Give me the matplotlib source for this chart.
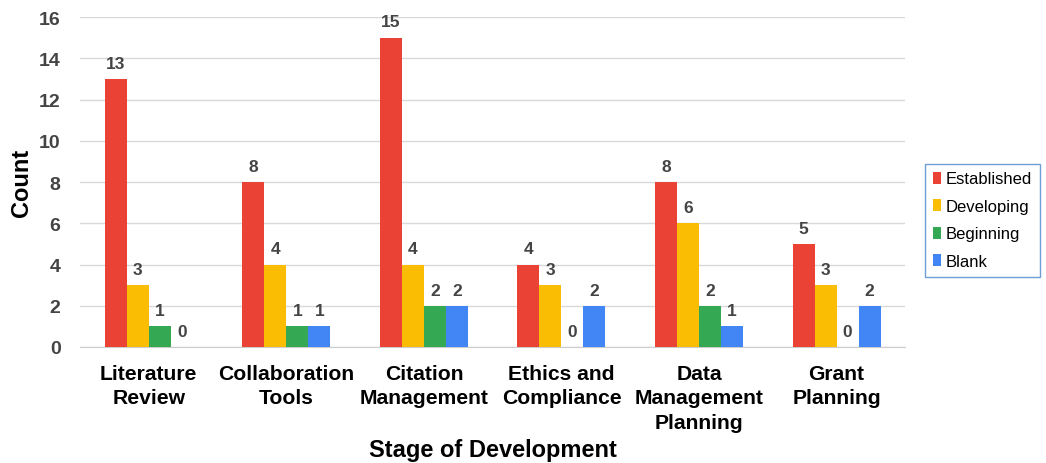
import numpy as np
import matplotlib
matplotlib.use("Agg")
import matplotlib.pyplot as plt

plt.rcParams['font.family'] = ['Liberation Sans', 'DejaVu Sans']

# counts per stage of development
categories = ["Literature\nReview", "Collaboration\nTools", "Citation\nManagement",
              "Ethics and\nCompliance", "Data\nManagement\nPlanning", "Grant\nPlanning"]
established = [13, 8, 15, 4, 8, 5]
developing = [3, 4, 4, 3, 6, 3]
beginning = [1, 1, 2, 0, 2, 0]
blank = [0, 1, 2, 2, 1, 2]

series = [("Established", established, "#EA4335"),
          ("Developing", developing, "#FBBC04"),
          ("Beginning", beginning, "#34A853"),
          ("Blank", blank, "#4285F4")]

fig = plt.figure(figsize=(10.46, 4.64), dpi=100)
ax = fig.add_axes([0.0765, 0.25, 0.789, 0.711])

x = np.arange(len(categories))
w = 0.16
for i, (name, vals, col) in enumerate(series):
    pos = x + (i - 1.5) * w
    ax.bar(pos, vals, w, color=col, label=name, zorder=3)
    for px, v in zip(pos, vals):
        ax.text(px, v + 0.4, str(v), ha='center', va='bottom',
                fontsize=12.5, fontweight='bold', color='#444444')

ax.set_xlim(-0.5, len(categories) - 0.5)
ax.set_ylim(0, 16)
ax.set_yticks(range(0, 17, 2))
ax.yaxis.grid(True, color='#d9d9d9', linewidth=1, zorder=0)
for s in ['top', 'right', 'left']:
    ax.spines[s].set_visible(False)
ax.spines['bottom'].set_color('#cccccc')
ax.tick_params(axis='both', length=0)
ax.tick_params(axis='y', labelsize=14, labelcolor='#444444', pad=14)
for lab in ax.get_yticklabels():
    lab.set_fontweight('bold')

ax.set_xticks(x)
ax.set_xticklabels(categories, fontsize=15.2, fontweight='bold', linespacing=1.38)
ax.tick_params(axis='x', pad=12)
ax.set_xlabel("Stage of Development", fontsize=17, fontweight='bold', labelpad=4.5)
ax.set_ylabel("Count", fontsize=17, fontweight='bold', labelpad=4)

leg = ax.legend(loc='upper left', bbox_to_anchor=(925 / 1046, 1 - 165 / 464),
                bbox_transform=fig.transFigure, fontsize=12,
                frameon=True, fancybox=False, handlelength=0.5, handleheight=0.7,
                handletextpad=0.3, labelspacing=0.75, borderpad=0.45,
                borderaxespad=0)
leg.get_frame().set_edgecolor('#4a86c8')
leg.get_frame().set_linewidth(1)

fig.savefig("out.png", dpi=100)
